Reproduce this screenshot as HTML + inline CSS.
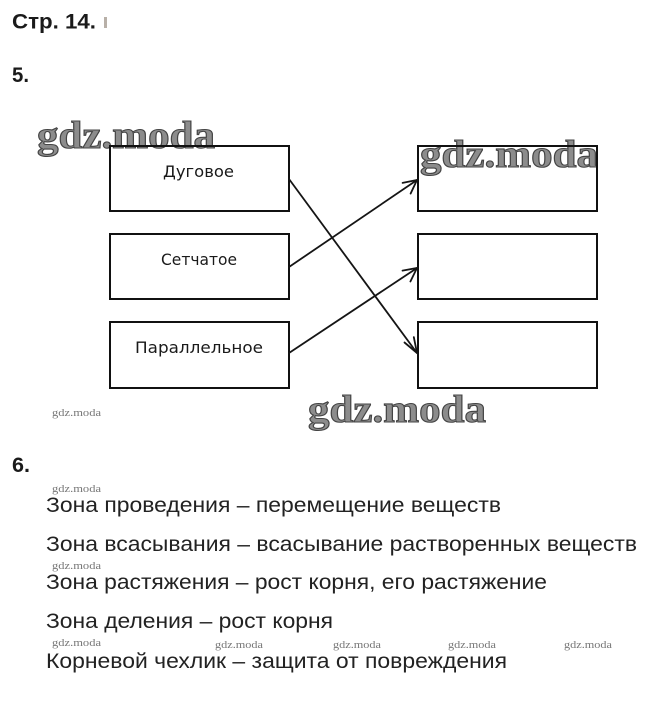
<!DOCTYPE html>
<html>
<head>
<meta charset="utf-8">
<style>
html,body{margin:0;padding:0;background:#fff;}
svg{display:block;}
</style>
</head>
<body>
<svg width="648" height="722" viewBox="0 0 648 722" xmlns="http://www.w3.org/2000/svg">
<rect x="0" y="0" width="648" height="722" fill="#fff"/>

<!-- Headings -->
<text x="12" y="28.5" font-family="Liberation Sans, sans-serif" font-weight="bold" font-size="21" fill="#1a1a1a" textLength="84" lengthAdjust="spacingAndGlyphs">Стр. 14.</text>
<rect x="104" y="17" width="3" height="11" fill="#b8b0a8"/>
<text x="12" y="82" font-family="Liberation Sans, sans-serif" font-weight="bold" font-size="21" fill="#1a1a1a" textLength="17" lengthAdjust="spacingAndGlyphs">5.</text>
<text x="12" y="472" font-family="Liberation Sans, sans-serif" font-weight="bold" font-size="21" fill="#1a1a1a" textLength="18" lengthAdjust="spacingAndGlyphs">6.</text>

<!-- Big watermarks -->
<g font-family="Liberation Serif, serif" font-weight="bold" font-size="39" fill="#8c8c8c" stroke="#444" stroke-width="1.1">
  <text x="37" y="148" textLength="178" lengthAdjust="spacingAndGlyphs">gdz.moda</text>
  <text x="420" y="167" textLength="178" lengthAdjust="spacingAndGlyphs">gdz.moda</text>
  <text x="308" y="422" textLength="178" lengthAdjust="spacingAndGlyphs">gdz.moda</text>
</g>

<!-- Boxes -->
<g fill="none" stroke="#111" stroke-width="2">
  <rect x="110" y="146" width="179" height="65"/>
  <rect x="110" y="234" width="179" height="65"/>
  <rect x="110" y="322" width="179" height="66"/>
  <rect x="418" y="146" width="179" height="65"/>
  <rect x="418" y="234" width="179" height="65"/>
  <rect x="418" y="322" width="179" height="66"/>
</g>

<!-- Box labels -->
<g font-family="DejaVu Sans, Liberation Sans, sans-serif" font-size="16" fill="#1a1a1a">
  <text x="163" y="177" textLength="71" lengthAdjust="spacingAndGlyphs">Дуговое</text>
  <text x="161" y="265" textLength="76" lengthAdjust="spacingAndGlyphs">Сетчатое</text>
  <text x="135" y="353" textLength="128" lengthAdjust="spacingAndGlyphs">Параллельное</text>
</g>

<!-- Connectors -->
<g stroke="#151515" stroke-width="1.8" fill="none" stroke-linecap="round">
  <line x1="289" y1="179" x2="417" y2="353"/>
  <polyline points="404.5,342.5 417,353 413.8,337.1"/>
  <line x1="289" y1="267" x2="417" y2="180"/>
  <polyline points="402.6,182.9 417,180 410.6,193.6"/>
  <line x1="289" y1="353" x2="417" y2="268"/>
  <polyline points="402.5,270.6 417,268 410.4,281.5"/>
</g>

<!-- Small watermarks -->
<g font-family="Liberation Serif, serif" font-size="10" fill="#777">
  <text x="52" y="416" textLength="49" lengthAdjust="spacingAndGlyphs">gdz.moda</text>
  <text x="52" y="492" textLength="49" lengthAdjust="spacingAndGlyphs">gdz.moda</text>
  <text x="52" y="569" textLength="49" lengthAdjust="spacingAndGlyphs">gdz.moda</text>
  <text x="52" y="646" textLength="49" lengthAdjust="spacingAndGlyphs">gdz.moda</text>
  <text x="215" y="648" textLength="48" lengthAdjust="spacingAndGlyphs">gdz.moda</text>
  <text x="333" y="648" textLength="48" lengthAdjust="spacingAndGlyphs">gdz.moda</text>
  <text x="448" y="648" textLength="48" lengthAdjust="spacingAndGlyphs">gdz.moda</text>
  <text x="564" y="648" textLength="48" lengthAdjust="spacingAndGlyphs">gdz.moda</text>
</g>

<!-- List -->
<g font-family="Liberation Sans, sans-serif" font-size="21.5" fill="#222">
  <text x="46" y="512" textLength="455" lengthAdjust="spacingAndGlyphs">Зона проведения – перемещение веществ</text>
  <text x="46" y="551" textLength="591" lengthAdjust="spacingAndGlyphs">Зона всасывания – всасывание растворенных веществ</text>
  <text x="46" y="589" textLength="501" lengthAdjust="spacingAndGlyphs">Зона растяжения – рост корня, его растяжение</text>
  <text x="46" y="628" textLength="287" lengthAdjust="spacingAndGlyphs">Зона деления – рост корня</text>
  <text x="46" y="668" textLength="461" lengthAdjust="spacingAndGlyphs">Корневой чехлик – защита от повреждения</text>
</g>
</svg>
</body>
</html>
